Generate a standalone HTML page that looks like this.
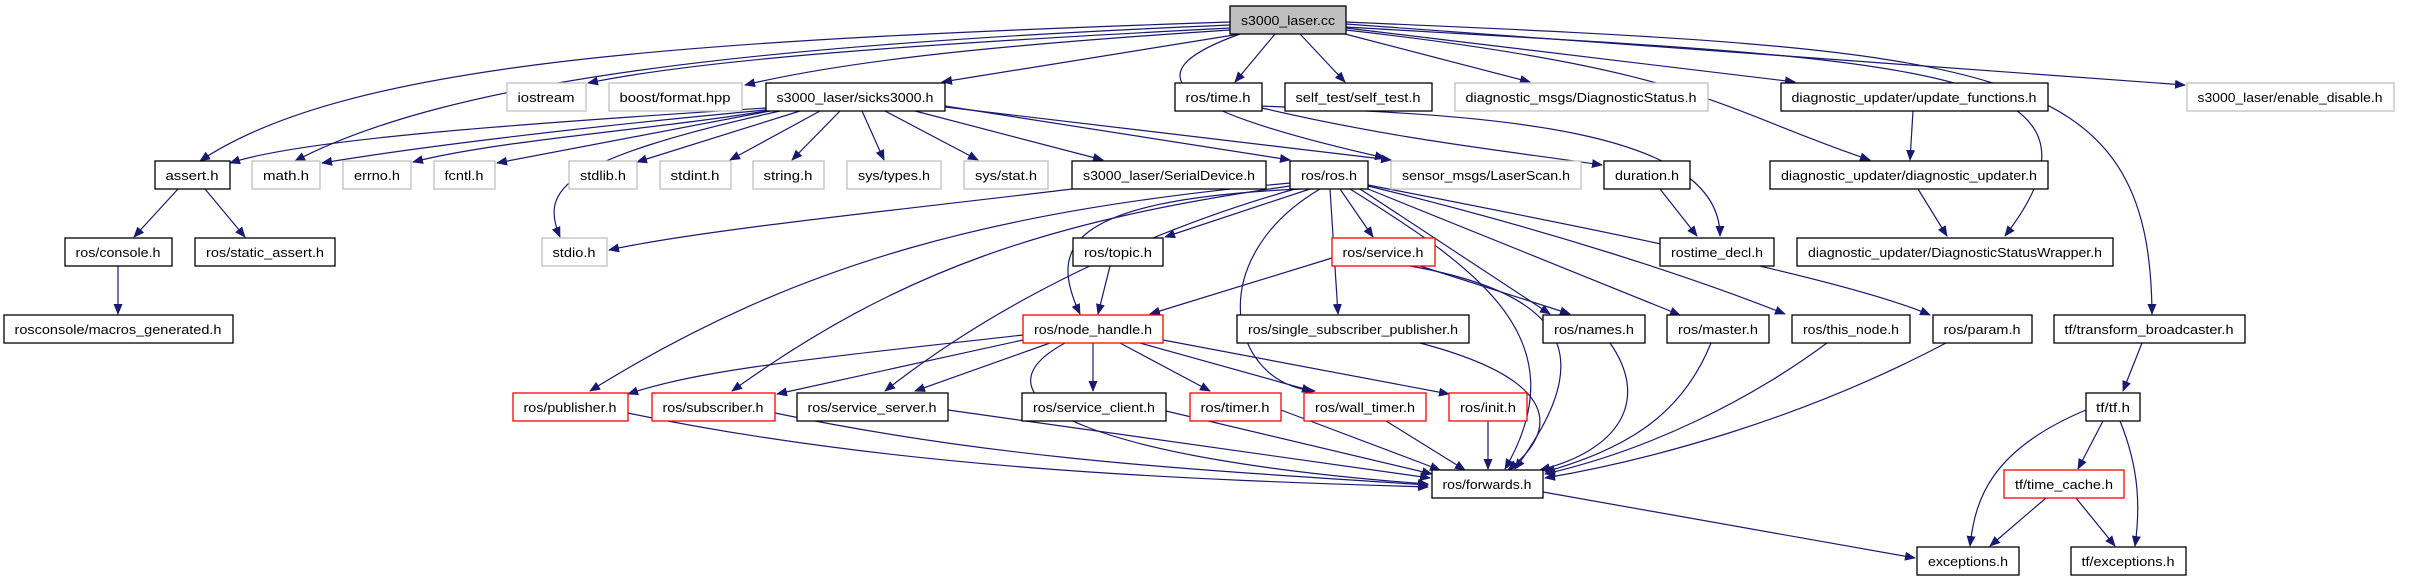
<!DOCTYPE html>
<html><head><meta charset="utf-8"><style>
html,body{margin:0;padding:0;background:#fff;}
svg{display:block;}
text{font-family:"Liberation Sans","DejaVu Sans",sans-serif;font-size:13px;fill:#000;text-anchor:middle;}
.e{fill:none;stroke:#191970;stroke-width:1.2;marker-end:url(#a);}
.b{fill:#fff;stroke:#000;stroke-width:1.3;}
.g{fill:#fff;stroke:#bfbfbf;stroke-width:1.3;}
.r{fill:#fff;stroke:#ff0000;stroke-width:1.3;}
</style></head><body>
<svg width="2411" height="581" viewBox="0 0 2411 581" xmlns="http://www.w3.org/2000/svg">
<defs><marker id="a" markerWidth="11" markerHeight="9" refX="10" refY="4.5" orient="auto" markerUnits="userSpaceOnUse"><path d="M0,0 L11,4.5 L0,9 z" fill="#191970"/></marker></defs>
<g>
<path class="e" d="M1230,22 C700,40 350,60 200,161"/>
<path class="e" d="M1230,25 C750,45 450,80 295,161"/>
<path class="e" d="M1230,28 C900,45 700,60 588,83"/>
<path class="e" d="M1230,30 C1000,45 850,60 745,85"/>
<path class="e" d="M1240,34 L942,82"/>
<path class="e" d="M1240,34 C1140,70 1150,105 1385,158"/>
<path class="e" d="M1275,34 L1235,82"/>
<path class="e" d="M1300,34 L1345,82"/>
<path class="e" d="M1345,34 L1530,82"/>
<path class="e" d="M1346,28 L1795,82"/>
<path class="e" d="M1346,30 C1700,70 1720,110 1870,160"/>
<path class="e" d="M1346,27 C1900,60 2140,60 2005,236"/>
<path class="e" d="M1346,24 L2185,85"/>
<path class="e" d="M1346,22 C2000,50 2150,60 2152,314"/>
<path class="e" d="M766,108 C500,125 300,140 230,163"/>
<path class="e" d="M766,110 C550,130 400,150 322,163"/>
<path class="e" d="M766,111 C650,130 500,140 413,162"/>
<path class="e" d="M770,111 L497,163"/>
<path class="e" d="M780,111 C560,160 540,190 560,237"/>
<path class="e" d="M800,111 L637,162"/>
<path class="e" d="M820,111 L730,160"/>
<path class="e" d="M840,111 L792,160"/>
<path class="e" d="M862,111 L884,160"/>
<path class="e" d="M885,111 L978,160"/>
<path class="e" d="M915,111 L1103,160"/>
<path class="e" d="M945,106 L1290,160"/>
<path class="e" d="M945,107 L1391,160"/>
<path class="e" d="M1262,108 C1400,140 1500,150 1602,165"/>
<path class="e" d="M1262,106 C1450,115 1720,120 1720,236"/>
<path class="e" d="M1660,189 L1697,236"/>
<path class="e" d="M1913,111 L1910,160"/>
<path class="e" d="M1918,189 L1947,236"/>
<path class="e" d="M178,189 L134,237"/>
<path class="e" d="M205,189 L245,237"/>
<path class="e" d="M118,266 L118,314"/>
<path class="e" d="M1072,189 C900,210 700,230 609,250"/>
<path class="e" d="M1290,183 C1000,210 800,260 590,391"/>
<path class="e" d="M1290,186 C1050,220 900,270 732,391"/>
<path class="e" d="M1295,189 C1150,230 1000,300 885,391"/>
<path class="e" d="M1300,189 C1060,200 1050,250 1080,314"/>
<path class="e" d="M1310,189 L1165,237"/>
<path class="e" d="M1340,189 L1373,237"/>
<path class="e" d="M1360,189 L1550,314"/>
<path class="e" d="M1368,189 L1680,315"/>
<path class="e" d="M1368,186 C1550,230 1700,280 1785,314"/>
<path class="e" d="M1368,185 C1600,230 1850,280 1930,315"/>
<path class="e" d="M1330,189 L1338,314"/>
<path class="e" d="M1320,189 C1200,260 1230,385 1315,391"/>
<path class="e" d="M1350,189 C1480,270 1580,340 1505,469"/>
<path class="e" d="M1110,266 L1098,314"/>
<path class="e" d="M1332,258 L1150,314"/>
<path class="e" d="M1420,266 L1570,314"/>
<path class="e" d="M1410,266 C1600,300 1580,380 1515,469"/>
<path class="e" d="M1023,335 C800,360 700,370 628,394"/>
<path class="e" d="M1023,340 L777,394"/>
<path class="e" d="M1050,343 L915,391"/>
<path class="e" d="M1093,343 L1093,391"/>
<path class="e" d="M1120,343 L1210,391"/>
<path class="e" d="M1140,343 L1312,391"/>
<path class="e" d="M1163,340 L1449,394"/>
<path class="e" d="M1065,343 C960,400 1100,460 1428,484"/>
<path class="e" d="M628,413 C900,470 1200,480 1428,487"/>
<path class="e" d="M775,413 C1000,460 1200,470 1428,485"/>
<path class="e" d="M948,410 L1430,478"/>
<path class="e" d="M1166,411 L1432,474"/>
<path class="e" d="M1281,410 L1440,470"/>
<path class="e" d="M1386,421 L1465,470"/>
<path class="e" d="M1488,421 L1488,469"/>
<path class="e" d="M1420,343 C1560,380 1560,430 1508,470"/>
<path class="e" d="M1610,343 C1650,400 1620,450 1540,470"/>
<path class="e" d="M1711,343 C1680,420 1620,450 1545,472"/>
<path class="e" d="M1827,343 C1750,400 1650,450 1545,474"/>
<path class="e" d="M1946,343 C1800,420 1650,460 1545,478"/>
<path class="e" d="M1543,492 L1915,558"/>
<path class="e" d="M2142,343 L2123,391"/>
<path class="e" d="M2086,410 C1990,450 1975,500 1970,546"/>
<path class="e" d="M2103,421 L2078,469"/>
<path class="e" d="M2120,421 C2140,470 2140,510 2135,546"/>
<path class="e" d="M2046,498 L1990,546"/>
<path class="e" d="M2076,498 L2115,546"/>
</g>
<g>
<rect x="1230" y="6" width="116" height="28" fill="#bfbfbf" stroke="#000" stroke-width="1.3"/><text x="1288" y="25" textLength="94" lengthAdjust="spacingAndGlyphs">s3000_laser.cc</text>

<rect class="g" x="507" y="83" width="79" height="28"/><text x="546" y="102" textLength="57" lengthAdjust="spacingAndGlyphs">iostream</text>
<rect class="g" x="609" y="83" width="133" height="28"/><text x="675" y="102" textLength="111" lengthAdjust="spacingAndGlyphs">boost/format.hpp</text>
<rect class="b" x="766" y="83" width="179" height="28"/><text x="855" y="102" textLength="157" lengthAdjust="spacingAndGlyphs">s3000_laser/sicks3000.h</text>
<rect class="b" x="1175" y="83" width="87" height="28"/><text x="1218" y="102" textLength="65" lengthAdjust="spacingAndGlyphs">ros/time.h</text>
<rect class="b" x="1285" y="83" width="147" height="28"/><text x="1358" y="102" textLength="125" lengthAdjust="spacingAndGlyphs">self_test/self_test.h</text>
<rect class="g" x="1455" y="83" width="253" height="28"/><text x="1581" y="102" textLength="231" lengthAdjust="spacingAndGlyphs">diagnostic_msgs/DiagnosticStatus.h</text>
<rect class="b" x="1781" y="83" width="267" height="28"/><text x="1914" y="102" textLength="245" lengthAdjust="spacingAndGlyphs">diagnostic_updater/update_functions.h</text>
<rect class="g" x="2187" y="83" width="207" height="28"/><text x="2290" y="102" textLength="185" lengthAdjust="spacingAndGlyphs">s3000_laser/enable_disable.h</text>

<rect class="b" x="155" y="161" width="75" height="28"/><text x="192" y="180" textLength="53" lengthAdjust="spacingAndGlyphs">assert.h</text>
<rect class="g" x="252" y="161" width="68" height="28"/><text x="286" y="180" textLength="46" lengthAdjust="spacingAndGlyphs">math.h</text>
<rect class="g" x="343" y="161" width="68" height="28"/><text x="377" y="180" textLength="46" lengthAdjust="spacingAndGlyphs">errno.h</text>
<rect class="g" x="434" y="161" width="61" height="28"/><text x="464" y="180" textLength="39" lengthAdjust="spacingAndGlyphs">fcntl.h</text>
<rect class="g" x="569" y="161" width="68" height="28"/><text x="603" y="180" textLength="46" lengthAdjust="spacingAndGlyphs">stdlib.h</text>
<rect class="g" x="660" y="161" width="71" height="28"/><text x="695" y="180" textLength="49" lengthAdjust="spacingAndGlyphs">stdint.h</text>
<rect class="g" x="753" y="161" width="71" height="28"/><text x="788" y="180" textLength="49" lengthAdjust="spacingAndGlyphs">string.h</text>
<rect class="g" x="847" y="161" width="94" height="28"/><text x="894" y="180" textLength="72" lengthAdjust="spacingAndGlyphs">sys/types.h</text>
<rect class="g" x="964" y="161" width="84" height="28"/><text x="1006" y="180" textLength="62" lengthAdjust="spacingAndGlyphs">sys/stat.h</text>
<rect class="b" x="1072" y="161" width="194" height="28"/><text x="1169" y="180" textLength="172" lengthAdjust="spacingAndGlyphs">s3000_laser/SerialDevice.h</text>
<rect class="b" x="1290" y="161" width="78" height="28"/><text x="1329" y="180" textLength="56" lengthAdjust="spacingAndGlyphs">ros/ros.h</text>
<rect class="g" x="1391" y="161" width="190" height="28"/><text x="1486" y="180" textLength="168" lengthAdjust="spacingAndGlyphs">sensor_msgs/LaserScan.h</text>
<rect class="b" x="1604" y="161" width="86" height="28"/><text x="1647" y="180" textLength="64" lengthAdjust="spacingAndGlyphs">duration.h</text>
<rect class="b" x="1770" y="161" width="278" height="28"/><text x="1909" y="180" textLength="256" lengthAdjust="spacingAndGlyphs">diagnostic_updater/diagnostic_updater.h</text>

<rect class="b" x="65" y="238" width="107" height="28"/><text x="118" y="257" textLength="85" lengthAdjust="spacingAndGlyphs">ros/console.h</text>
<rect class="b" x="195" y="238" width="140" height="28"/><text x="265" y="257" textLength="118" lengthAdjust="spacingAndGlyphs">ros/static_assert.h</text>
<rect class="g" x="542" y="238" width="65" height="28"/><text x="574" y="257" textLength="43" lengthAdjust="spacingAndGlyphs">stdio.h</text>
<rect class="b" x="1073" y="238" width="90" height="28"/><text x="1118" y="257" textLength="68" lengthAdjust="spacingAndGlyphs">ros/topic.h</text>
<rect class="r" x="1332" y="238" width="103" height="28"/><text x="1383" y="257" textLength="81" lengthAdjust="spacingAndGlyphs">ros/service.h</text>
<rect class="b" x="1660" y="238" width="114" height="28"/><text x="1717" y="257" textLength="92" lengthAdjust="spacingAndGlyphs">rostime_decl.h</text>
<rect class="b" x="1797" y="238" width="316" height="28"/><text x="1955" y="257" textLength="294" lengthAdjust="spacingAndGlyphs">diagnostic_updater/DiagnosticStatusWrapper.h</text>

<rect class="b" x="4" y="315" width="229" height="28"/><text x="118" y="334" textLength="207" lengthAdjust="spacingAndGlyphs">rosconsole/macros_generated.h</text>
<rect class="r" x="1023" y="315" width="140" height="28"/><text x="1093" y="334" textLength="118" lengthAdjust="spacingAndGlyphs">ros/node_handle.h</text>
<rect class="b" x="1237" y="315" width="232" height="28"/><text x="1353" y="334" textLength="210" lengthAdjust="spacingAndGlyphs">ros/single_subscriber_publisher.h</text>
<rect class="b" x="1543" y="315" width="102" height="28"/><text x="1594" y="334" textLength="80" lengthAdjust="spacingAndGlyphs">ros/names.h</text>
<rect class="b" x="1667" y="315" width="102" height="28"/><text x="1718" y="334" textLength="80" lengthAdjust="spacingAndGlyphs">ros/master.h</text>
<rect class="b" x="1792" y="315" width="118" height="28"/><text x="1851" y="334" textLength="96" lengthAdjust="spacingAndGlyphs">ros/this_node.h</text>
<rect class="b" x="1933" y="315" width="99" height="28"/><text x="1982" y="334" textLength="77" lengthAdjust="spacingAndGlyphs">ros/param.h</text>
<rect class="b" x="2054" y="315" width="191" height="28"/><text x="2149" y="334" textLength="169" lengthAdjust="spacingAndGlyphs">tf/transform_broadcaster.h</text>

<rect class="r" x="513" y="393" width="115" height="28"/><text x="570" y="412" textLength="93" lengthAdjust="spacingAndGlyphs">ros/publisher.h</text>
<rect class="r" x="652" y="393" width="123" height="28"/><text x="713" y="412" textLength="101" lengthAdjust="spacingAndGlyphs">ros/subscriber.h</text>
<rect class="b" x="797" y="393" width="151" height="28"/><text x="872" y="412" textLength="129" lengthAdjust="spacingAndGlyphs">ros/service_server.h</text>
<rect class="b" x="1022" y="393" width="144" height="28"/><text x="1094" y="412" textLength="122" lengthAdjust="spacingAndGlyphs">ros/service_client.h</text>
<rect class="r" x="1190" y="393" width="91" height="28"/><text x="1235" y="412" textLength="69" lengthAdjust="spacingAndGlyphs">ros/timer.h</text>
<rect class="r" x="1304" y="393" width="122" height="28"/><text x="1365" y="412" textLength="100" lengthAdjust="spacingAndGlyphs">ros/wall_timer.h</text>
<rect class="r" x="1449" y="393" width="78" height="28"/><text x="1488" y="412" textLength="56" lengthAdjust="spacingAndGlyphs">ros/init.h</text>
<rect class="b" x="2086" y="393" width="54" height="28"/><text x="2113" y="412" textLength="34" lengthAdjust="spacingAndGlyphs">tf/tf.h</text>

<rect class="b" x="1432" y="470" width="111" height="28"/><text x="1487" y="489" textLength="89" lengthAdjust="spacingAndGlyphs">ros/forwards.h</text>
<rect class="r" x="2004" y="470" width="120" height="28"/><text x="2064" y="489" textLength="98" lengthAdjust="spacingAndGlyphs">tf/time_cache.h</text>

<rect class="b" x="1917" y="547" width="102" height="28"/><text x="1968" y="566" textLength="80" lengthAdjust="spacingAndGlyphs">exceptions.h</text>
<rect class="b" x="2071" y="547" width="115" height="28"/><text x="2128" y="566" textLength="93" lengthAdjust="spacingAndGlyphs">tf/exceptions.h</text>
</g>
</svg>
</body></html>
